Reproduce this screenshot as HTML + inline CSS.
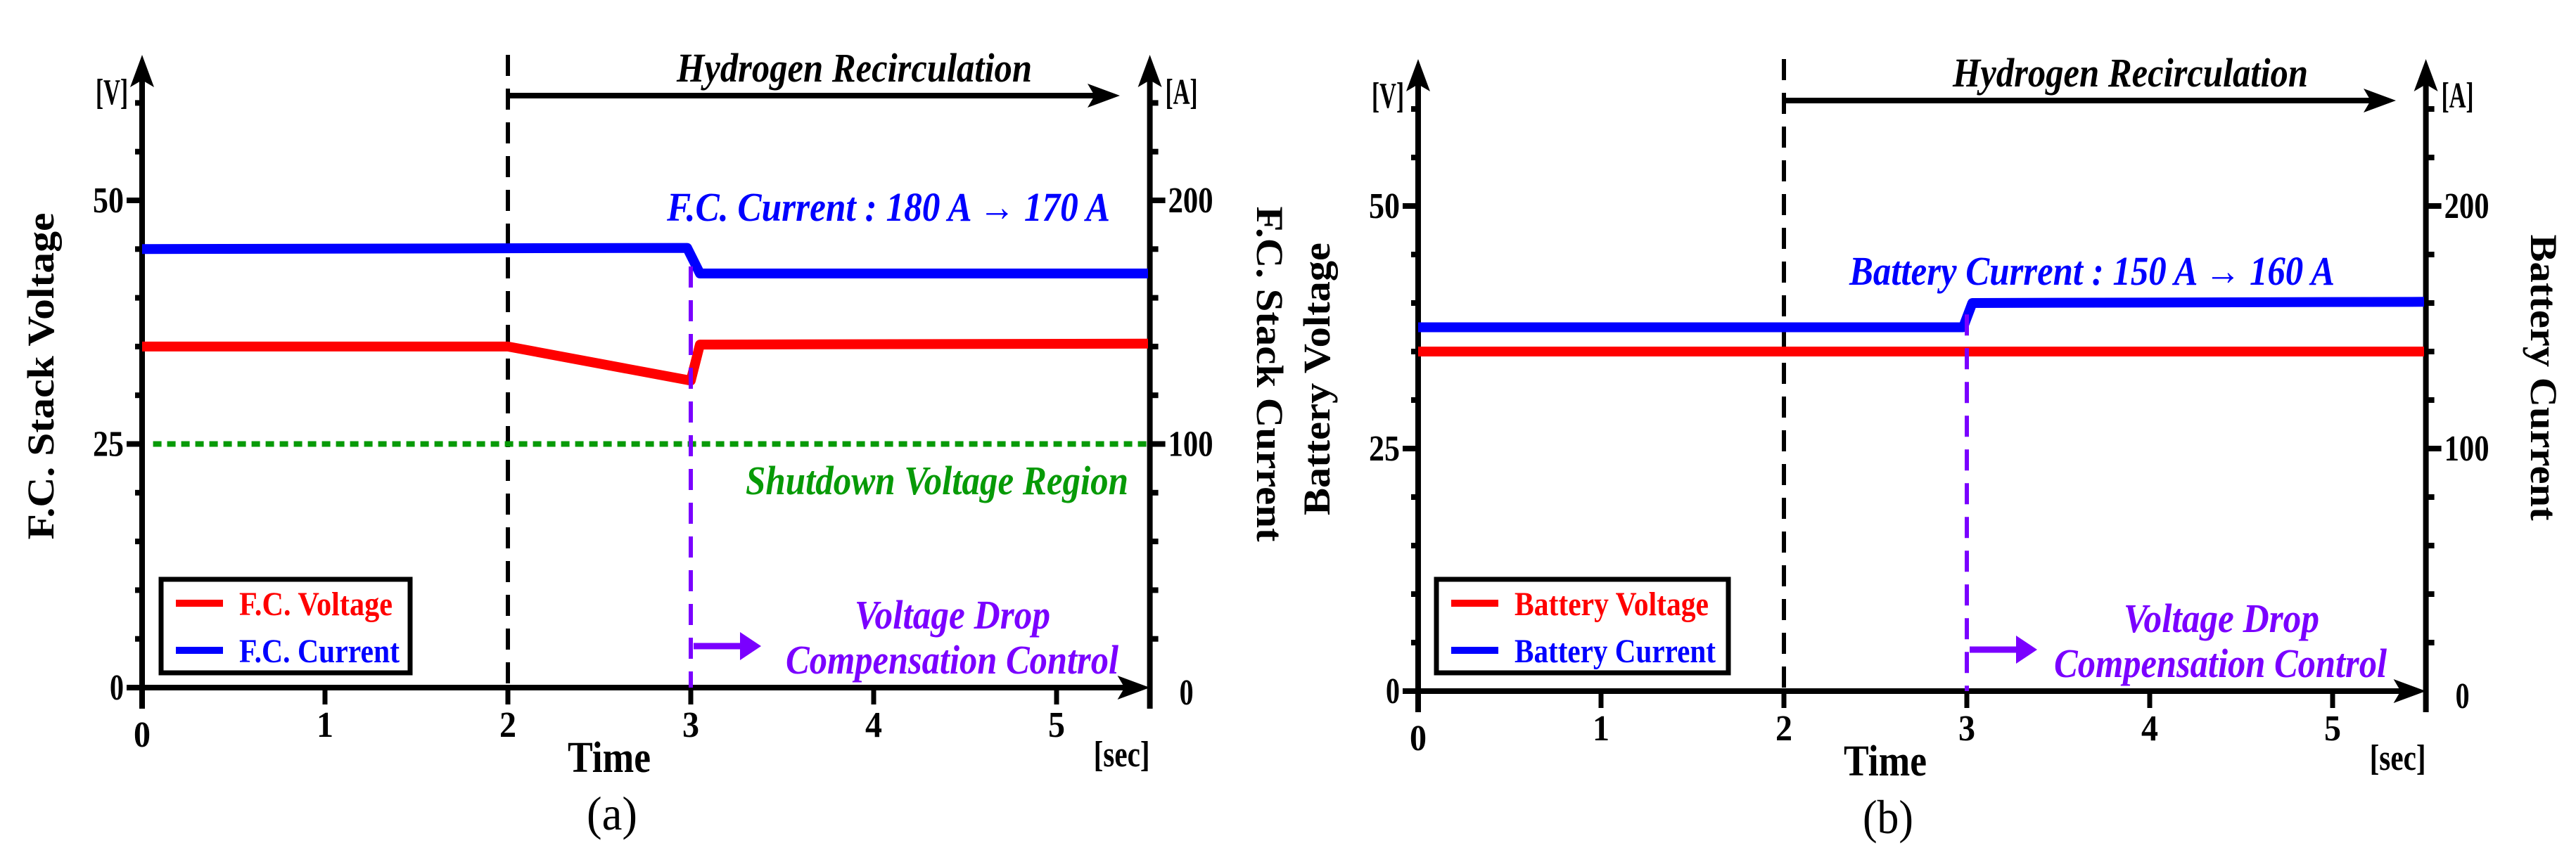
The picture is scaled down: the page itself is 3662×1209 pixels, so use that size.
<!DOCTYPE html>
<html><head><meta charset="utf-8"><style>
html,body{margin:0;padding:0;background:#fff;}
svg{display:block;}
text{font-family:"Liberation Serif",serif;}
</style></head><body>
<svg id="chart" width="3662" height="1209" viewBox="0 0 3662 1209" xmlns="http://www.w3.org/2000/svg">
</svg>
<script>
// Panel (a) data
const xTicks = [0,1,2,3,4,5];
const vTickLabels = [0,25,50];
const iTickLabels = [0,100,200];
const fcTime = [0,2,3,3.05,5.5];
const fcVoltage = [35,35,31.5,35.2,35.3];
const fcCurTime = [0,2.98,3.05,5.5];
const fcCurrent = [180,180.5,170,170];
const shutdownVoltage = [25];
// Panel (b) data
const batTime = [0,5.5];
const batVoltage = [35,35];
const batCurTime = [0,2.98,3.03,5.5];
const batCurrent = [150,150,160,160.5];

const svg = document.getElementById('chart');
const NS = 'http://www.w3.org/2000/svg';
function mk(tag, attrs, parent){
  const e = document.createElementNS(NS, tag);
  for (const k in attrs) e.setAttribute(k, attrs[k]);
  (parent||svg).appendChild(e);
  return e;
}
function txt(s, attrs, parent){ const e = mk('text', attrs, parent); e.textContent = s; return e; }
function headUp(x,y,g){ mk('path',{d:`M${x},${y} L${x+17},${y+46} L${x},${y+36} L${x-17},${y+46} Z`,fill:'#000'},g); }
function headRight(x,y,g){ mk('path',{d:`M${x},${y} L${x-46},${y-17} L${x-36},${y} L${x-46},${y+17} Z`,fill:'#000'},g); }

function panel(P){
  const g = mk('g', {});
  
  
  const X = t => P.x0 + t*260;
  const YV = v => P.y0 - v*(P.y0-P.y50)/50;
  const YI = a => YV(a/4);
  const xr = X(5.51);
  const ax = mk('line',{x1:P.x0,y1:P.y0+30,x2:P.x0,y2:P.yTop+20,stroke:'#000','stroke-width':8},g);
   
  headUp(P.x0,P.yTop,g);
  const ar = mk('line',{x1:xr,y1:P.y0+30,x2:xr,y2:P.yTop+20,stroke:'#000','stroke-width':8},g);
   
  headUp(xr,P.yTop,g);
  const axx = mk('line',{x1:P.x0-22,y1:P.y0,x2:xr-20,y2:P.y0,stroke:'#000','stroke-width':8},g);
   
  headRight(xr,P.y0,g);
  for (let v=5; v<=60; v+=5){
    const big = v%25===0;
    mk('line',{x1:P.x0-(big?22:10),y1:YV(v),x2:P.x0,y2:YV(v),stroke:'#000','stroke-width':8},g);
    mk('line',{x1:xr,y1:YV(v),x2:xr+(big?22:12),y2:YV(v),stroke:'#000','stroke-width':8},g);
  }
  xTicks.forEach(t=>{
    mk('line',{x1:X(t),y1:P.y0,x2:X(t),y2:P.y0+24,stroke:'#000','stroke-width':7},g);
    const l = txt(String(t),{x:X(t),y:(t===0?1062:1048)+P.dy,'text-anchor':'middle','font-size':52,'font-weight':'bold',textLength:24,lengthAdjust:'spacingAndGlyphs'},g);
     
  });
  vTickLabels.forEach(v=>{
    const l = txt(String(v),{x:P.x0-26,y:YV(v)+17,'text-anchor':'end','font-size':52,'font-weight':'bold',textLength:v?44:20,lengthAdjust:'spacingAndGlyphs'},g);
     
  });
  iTickLabels.forEach(a=>{
    const l = txt(String(a),{x:xr+(a?26:42),y:YI(a)+(a?17:24),'font-size':52,'font-weight':'bold',textLength:a?64:20,lengthAdjust:'spacingAndGlyphs'},g);
     
  });
  let u = txt('[V]',{x:P.x0-20,y:P.y0-830,'text-anchor':'end','font-size':52,'font-weight':'bold',textLength:46,lengthAdjust:'spacingAndGlyphs'},g);
   
  u = txt('[A]',{x:xr+22,y:P.y0-830,'font-size':52,'font-weight':'bold',textLength:46,lengthAdjust:'spacingAndGlyphs'},g);
   
  let t1 = txt(P.leftTitle,{x:0,y:0,'text-anchor':'middle','font-size':54,'font-weight':'bold',textLength:P.lLen,lengthAdjust:'spacingAndGlyphs',transform:`translate(${P.lx+18},${P.ly}) rotate(-90)`},g);
   
  let t2 = txt(P.rightTitle,{x:0,y:0,'text-anchor':'middle','font-size':54,'font-weight':'bold',textLength:P.rLen,lengthAdjust:'spacingAndGlyphs',transform:`translate(${P.rx-18},${P.ry}) rotate(90)`},g);
   
  let tt = txt('Time',{x:P.x0+664,y:1098+P.dy,'text-anchor':'middle','font-size':62,'font-weight':'bold',textLength:118,lengthAdjust:'spacingAndGlyphs'},g);
   
  let ts = txt('[sec]',{x:xr-40,y:1090+P.dy,'text-anchor':'middle','font-size':52,'font-weight':'bold',textLength:80,lengthAdjust:'spacingAndGlyphs'},g);
   
  let tp = txt(P.label,{x:P.x0+668,y:1180+P.dy,'text-anchor':'middle','font-size':68,textLength:72,lengthAdjust:'spacingAndGlyphs'},g);
   
  const d2 = mk('line',{x1:X(2),y1:P.yTop,x2:X(2),y2:P.y0,stroke:'#000','stroke-width':6,'stroke-dasharray':'30 18'},g);
   
  const ha = mk('line',{x1:X(2),y1:P.hy,x2:P.hx2-20,y2:P.hy,stroke:'#000','stroke-width':8},g);
   
  headRight(P.hx2,P.hy,g);
  const ht = txt('Hydrogen Recirculation',{x:P.htx,y:P.hy-20,'font-size':58,'font-weight':'bold','font-style':'italic',textLength:505,lengthAdjust:'spacingAndGlyphs'},g);
   
  if (P.shutdown){
    shutdownVoltage.forEach(v=>{
      const sl = mk('line',{x1:X(0.06),y1:YV(v),x2:xr,y2:YV(v),stroke:'#079a07','stroke-width':8,'stroke-dasharray':'12 8'},g);
       
    });
    const st = txt('Shutdown Voltage Region',{x:1060,y:703,'font-size':58,'font-weight':'bold','font-style':'italic',fill:'#079a07',textLength:544,lengthAdjust:'spacingAndGlyphs'},g);
     
  }
  const ptsV = P.vt.map((t,i)=>X(t)+','+YV(P.vv[i])).join(' ');
  const pv = mk('polyline',{points:ptsV,fill:'none',stroke:'#ff0000','stroke-width':14,'stroke-linejoin':'round'},g);
   
  const ptsI = P.it.map((t,i)=>X(t)+','+YI(P.iv[i])).join(' ');
  const pi = mk('polyline',{points:ptsI,fill:'none',stroke:'#0000ff','stroke-width':14,'stroke-linejoin':'round'},g);
   
  const d3 = mk('line',{x1:X(3),y1:YI(P.iv[P.iv.length-1])+(P.shutdown?-10:18),x2:X(3),y2:P.y0,stroke:'#7a00ff','stroke-width':6,'stroke-dasharray':'30 18'},g);
   
  const pa = mk('line',{x1:X(3)+4,y1:P.y0-59,x2:X(3)+76,y2:P.y0-59,stroke:'#7a00ff','stroke-width':9},g);
   
  mk('path',{d:`M${X(3)+70},${P.y0-79} L${X(3)+100},${P.y0-59} L${X(3)+70},${P.y0-39} Z`,fill:'#7a00ff'},g);
  const v1 = txt('Voltage Drop',{x:P.vdx,y:P.y0-84,'font-size':58,'font-weight':'bold','font-style':'italic',fill:'#7a00ff',textLength:278,lengthAdjust:'spacingAndGlyphs'},g);
   
  const v2 = txt('Compensation Control',{x:P.ccx,y:P.y0-20,'font-size':58,'font-weight':'bold','font-style':'italic',fill:'#7a00ff',textLength:473,lengthAdjust:'spacingAndGlyphs'},g);
   
  const ca = txt(P.curText,{x:P.ctx,y:P.cty,'font-size':58,'font-weight':'bold','font-style':'italic',fill:'#0000ff',textLength:P.ctLen,lengthAdjust:'spacingAndGlyphs'},g);
   
  const lg = mk('g',{},g);
   
  mk('rect',{x:P.lgx,y:824,width:P.lgw,height:133,fill:'#fff',stroke:'#000','stroke-width':7},lg);
  const l1 = mk('line',{x1:P.lgx+21,y1:858,x2:P.lgx+88,y2:858,stroke:'#ff0000','stroke-width':10},lg);
   
  const l2 = mk('line',{x1:P.lgx+21,y1:925,x2:P.lgx+88,y2:925,stroke:'#0000ff','stroke-width':10},lg);
   
  const e1 = txt(P.lg1,{x:P.lgx+111,y:875,'font-size':48,'font-weight':'bold',fill:'#ff0000',textLength:P.lgt1,lengthAdjust:'spacingAndGlyphs'},lg);
   
  const e2 = txt(P.lg2,{x:P.lgx+111,y:942,'font-size':48,'font-weight':'bold',fill:'#0000ff',textLength:P.lgt2,lengthAdjust:'spacingAndGlyphs'},lg);
   
}

panel({name:'panel-a',x0:202,y0:978,y50:285,yTop:78,dy:0,label:'(a)',
  leftTitle:'F.C. Stack Voltage',lx:58,ly:535,lLen:465,
  rightTitle:'F.C. Stack Current',rx:1805,ry:532,rLen:477,
  hy:136,hx2:1592,htx:962,shutdown:true,
  vt:fcTime,vv:fcVoltage,it:fcCurTime,iv:fcCurrent,
  vdx:1215,ccx:1117,curText:'F.C. Current : 180 A \u2192 170 A',ctx:948,cty:314,ctLen:630,
  lgx:229,lgw:354,lg1:'F.C. Voltage',lg2:'F.C. Current',lgt1:218,lgt2:228});
panel({name:'panel-b',x0:2016,y0:983,y50:293,yTop:84,dy:5,label:'(b)',
  leftTitle:'Battery Voltage',lx:1872,ly:539,lLen:388,
  rightTitle:'Battery Current',rx:3616,ry:537,rLen:407,
  hy:143,hx2:3406,htx:2776,shutdown:false,
  vt:batTime,vv:batVoltage,it:batCurTime,iv:batCurrent,
  vdx:3019,ccx:2920,curText:'Battery Current : 150 A \u2192 160 A',ctx:2629,cty:405,ctLen:690,
  lgx:2042,lgw:415,lg1:'Battery Voltage',lg2:'Battery Current',lgt1:276,lgt2:286});
</script>
</body></html>
